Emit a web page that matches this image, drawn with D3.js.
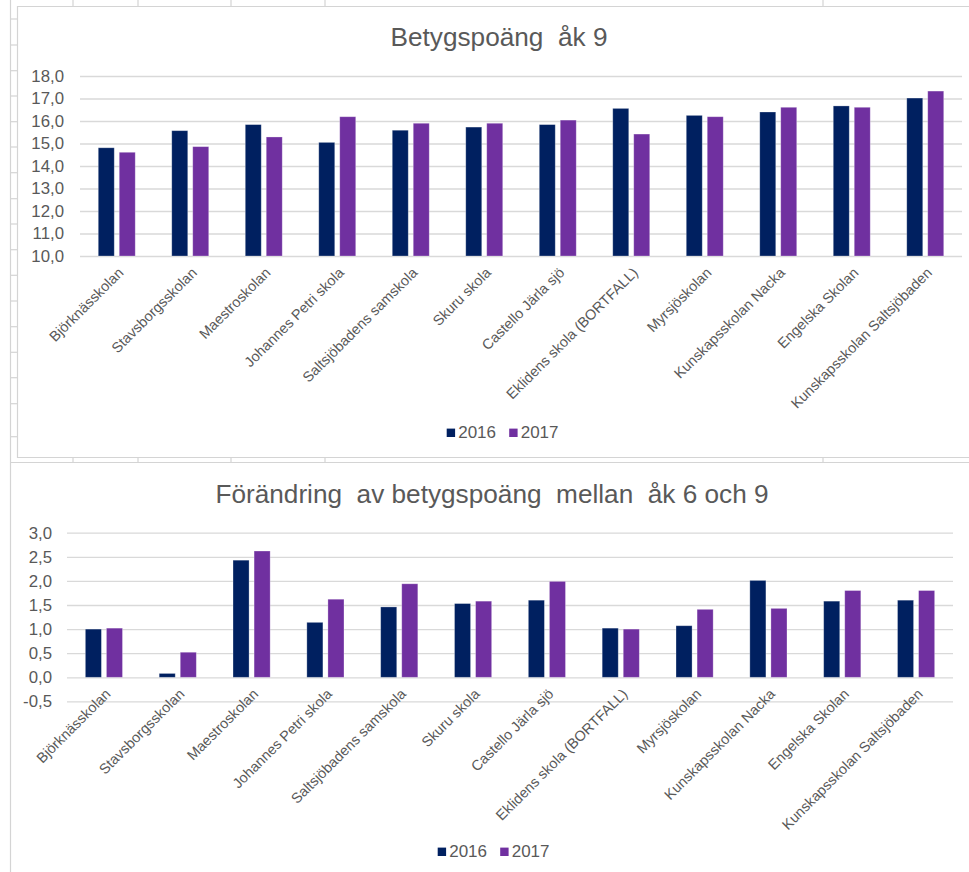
<!DOCTYPE html>
<html><head><meta charset="utf-8">
<script src="https://cdn.jsdelivr.net/npm/d3@7"></script>
<style>
html,body{margin:0;padding:0;background:#fff;}
svg{display:block;font-family:"Liberation Sans",Arial,sans-serif;}
</style></head>
<body>
<svg id="c" width="969" height="872"></svg>
<script>
const schools = ["Björknässkolan","Stavsborgsskolan","Maestroskolan","Johannes Petri skola","Saltsjöbadens samskola","Skuru skola","Castello Järla sjö","Eklidens skola (BORTFALL)","Myrsjöskolan","Kunskapsskolan Nacka","Engelska Skolan","Kunskapsskolan Saltsjöbaden"];
const seriesNames = ["2016","2017"];
const score2016 = [14.81,15.57,15.84,15.05,15.59,15.73,15.84,16.56,16.25,16.40,16.67,17.02];
const score2017 = [14.61,14.86,15.29,16.19,15.90,15.90,16.04,15.42,16.19,16.61,16.61,17.33];
const change2016 = [1.00,0.08,2.43,1.14,1.46,1.53,1.60,1.02,1.07,2.01,1.58,1.60];
const change2017 = [1.02,0.52,2.62,1.62,1.94,1.58,1.99,1.00,1.41,1.43,1.80,1.80];
const topTicks = [10,11,12,13,14,15,16,17,18];
const bottomTicks = [-0.5,0,0.5,1,1.5,2,2.5,3];
const titleTop = "Betygspoäng\u00a0\u00a0åk 9";
const titleBottom = "Förändring\u00a0\u00a0av betygspoäng\u00a0\u00a0mellan\u00a0\u00a0åk 6 och 9";

const colors = {"2016":"#002060","2017":"#7030A0"};
const txt = "#595959", grid = "#d9d9d9", sheet = "#d4d4d4";
const fmt = v => d3.format(".1f")(v).replace(".", ",").replace("−","-");
const svg = d3.select("#c");

// spreadsheet background lines
const bg = svg.append("g").attr("stroke", sheet).attr("stroke-width", 1.2);
bg.append("line").attr("x1",10.5).attr("x2",10.5).attr("y1",0).attr("y2",872);
[19,45,70.7,96,121.7,147,172.7,198.7,224,249.7,275.3,301,326.7,352.3,377.7,403.7,436.7].forEach(y=>{
  bg.append("line").attr("x1",10).attr("x2",17).attr("y1",y).attr("y2",y);
});
[73,138,231,325,823].forEach(x=>{
  bg.append("line").attr("x1",x).attr("x2",x).attr("y1",0).attr("y2",6);
  bg.append("line").attr("x1",x).attr("x2",x).attr("y1",458).attr("y2",462);
});
bg.append("line").attr("x1",17.5).attr("x2",17.5).attr("y1",6).attr("y2",458);
bg.append("line").attr("x1",17).attr("x2",969).attr("y1",6.5).attr("y2",6.5);
bg.append("line").attr("x1",17).attr("x2",969).attr("y1",457.5).attr("y2",457.5);
bg.append("line").attr("x1",10).attr("x2",969).attr("y1",462.5).attr("y2",462.5);

function drawChart(cfg){
  const g = svg.append("g");
  const x0 = d3.scaleBand().domain(schools).range([cfg.x0, cfg.x1]).paddingInner(0.497).paddingOuter(0.2485);
  const x1 = d3.scaleBand().domain(seriesNames).range([0, x0.bandwidth()]).paddingInner(0.238);
  const y = d3.scaleLinear().domain(cfg.domain).range([cfg.yb, cfg.yt]);
  // title
  g.append("text").attr("x", cfg.tx).attr("y", cfg.ty).attr("text-anchor","middle")
    .attr("font-size", 26.2).attr("fill", txt).text(cfg.title);
  // gridlines
  const yAxis = d3.axisLeft(y).tickValues(cfg.ticks).tickSize(-(cfg.x1 - cfg.x0)).tickPadding(cfg.x0 - cfg.labelX).tickFormat(fmt);
  const ag = g.append("g").attr("transform", `translate(${cfg.x0},0)`).call(yAxis);
  ag.select(".domain").remove();
  ag.selectAll(".tick line").attr("stroke", grid).attr("stroke-width", 1.3);
  ag.selectAll(".tick text").attr("fill", txt).attr("font-size", 16.8).attr("font-family","Liberation Sans, Arial, sans-serif");
  // bars
  const rows = schools.map((s,i)=>({school:s, vals:[{k:"2016",v:cfg.s1[i]},{k:"2017",v:cfg.s2[i]}]}));
  const base = y(cfg.base);
  const grp = g.selectAll(".grp").data(rows).enter().append("g")
    .attr("transform", d=>`translate(${x0(d.school)},0)`);
  grp.selectAll("rect").data(d=>d.vals).enter().append("rect")
    .attr("x", d=>x1(d.k)).attr("width", x1.bandwidth())
    .attr("y", d=>Math.min(y(d.v), base)).attr("height", d=>Math.abs(base - y(d.v)))
    .attr("fill", d=>colors[d.k]).attr("stroke", "#ffffff").attr("stroke-opacity",0.35).attr("stroke-width",0.8);
  // category labels
  g.selectAll(".cat").data(schools).enter().append("text")
    .attr("transform", d=>`translate(${x0(d)+x0.bandwidth()/2+4},${base+14}) rotate(-45)`)
    .attr("text-anchor","end").attr("dy","0.35em").attr("font-size",14.4).attr("fill",txt).text(d=>d);
  // legend
  const lg = g.append("g");
  seriesNames.forEach((s,i)=>{
    const lx = cfg.legX + i*62.5;
    lg.append("rect").attr("x", lx).attr("y", cfg.legY-9.7).attr("width",8.4).attr("height",8.4).attr("fill", colors[s]);
    lg.append("text").attr("x", lx+11.5).attr("y", cfg.legY).attr("font-size",17).attr("fill",txt).text(s);
  });
}

drawChart({x0:80, x1:962, yt:76, yb:256, domain:[10,18], ticks:topTicks, base:10,
  s1:score2016, s2:score2017, title:titleTop, tx:499, ty:46, labelX:64, legX:446.7, legY:438.3});
drawChart({x0:67, x1:953, yt:532.7, yb:701.4, domain:[-0.5,3], ticks:bottomTicks, base:0,
  s1:change2016, s2:change2017, title:titleBottom, tx:492, ty:503, labelX:52, legX:437.7, legY:857.3});
</script>
</body></html>
